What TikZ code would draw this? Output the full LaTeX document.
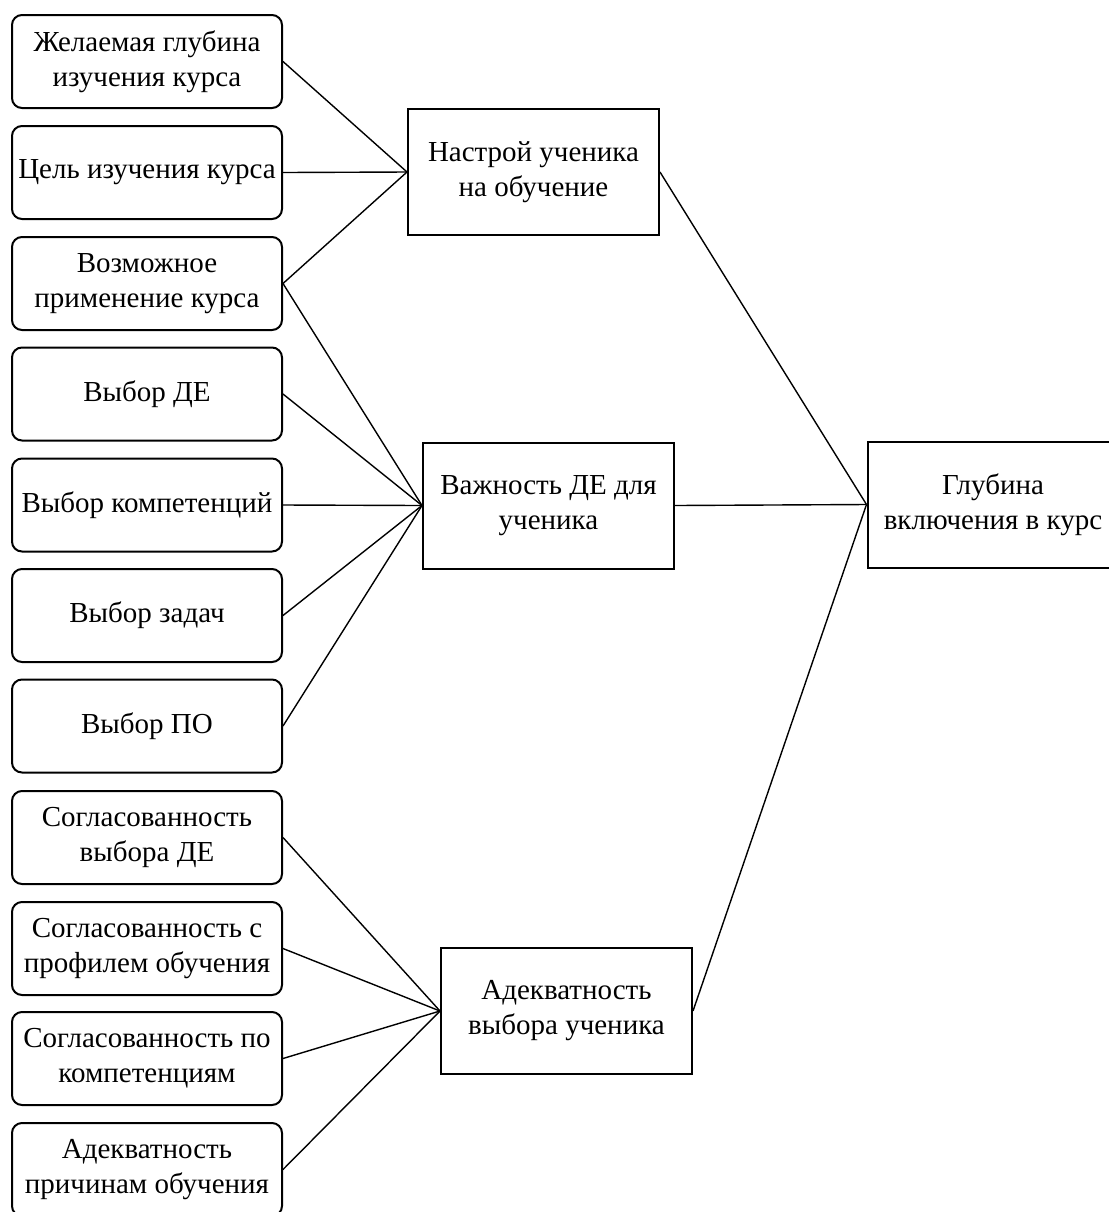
\documentclass[tikz,border=0pt]{standalone}
\usepackage{fontspec}
\setmainfont{Liberation Serif}
\tikzset{
  factor/.style={draw, line width=1pt, rounded corners=5pt, minimum width=135pt,
    minimum height=46.5pt, inner sep=0pt, align=center,
    font=\fontsize{14.5}{17.5}\selectfont},
  group/.style={draw, line width=1pt, minimum width=125.5pt, minimum height=63pt,
    inner sep=0pt, align=center, font=\fontsize{14.5}{17.5}\selectfont},
  link/.style={line width=0.7pt}
}
\begin{document}
\begin{tikzpicture}[x=0.5pt, y=-0.5pt]
\useasboundingbox (0,0) rectangle (1109,1212);
\clip (0,0) rectangle (1109,1212);
\fill[white] (0,0) rectangle (1109,1212);

% input factors (left column)
\node[factor] (f1)  at (147,61.5)   {Желаемая глубина\\изучения курса};
\node[factor] (f2)  at (147,172.5)  {Цель изучения курса};
\node[factor] (f3)  at (147,283.5)  {Возможное\\применение курса};
\node[factor] (f4)  at (147,394)    {Выбор ДЕ};
\node[factor] (f5)  at (147,505)    {Выбор компетенций};
\node[factor] (f6)  at (147,615.5)  {Выбор задач};
\node[factor] (f7)  at (147,726)    {Выбор ПО};
\node[factor] (f8)  at (147,837.5)  {Согласованность\\выбора ДЕ};
\node[factor] (f9)  at (147,948.5)  {Согласованность с\\профилем обучения};
\node[factor] (f10) at (147,1058.5) {Согласованность по\\компетенциям};
\node[factor] (f11) at (147,1169.5) {Адекватность\\причинам обучения};

% intermediate criteria
\node[group] (mood)  at (533.5,172)  {Настрой ученика\\на обучение};
\node[group] (imp)   at (548.5,505.5) {Важность ДЕ для\\ученика};
\node[group] (adeq)  at (566.5,1011) {Адекватность\\выбора ученика};

% resulting criterion
\node[group] (depth) at (993,504.5)  {Глубина\\включения в курс};

% connectors
\foreach \f in {f1,f2,f3}
  \draw[link] (\f.east) -- (mood.west);
\foreach \f in {f3,f4,f5,f6,f7}
  \draw[link] (\f.east) -- (imp.west);
\foreach \f in {f8,f9,f10,f11}
  \draw[link] (\f.east) -- (adeq.west);
\foreach \g in {mood,imp,adeq}
  \draw[link] (\g.east) -- (depth.west);
\end{tikzpicture}
\end{document}
